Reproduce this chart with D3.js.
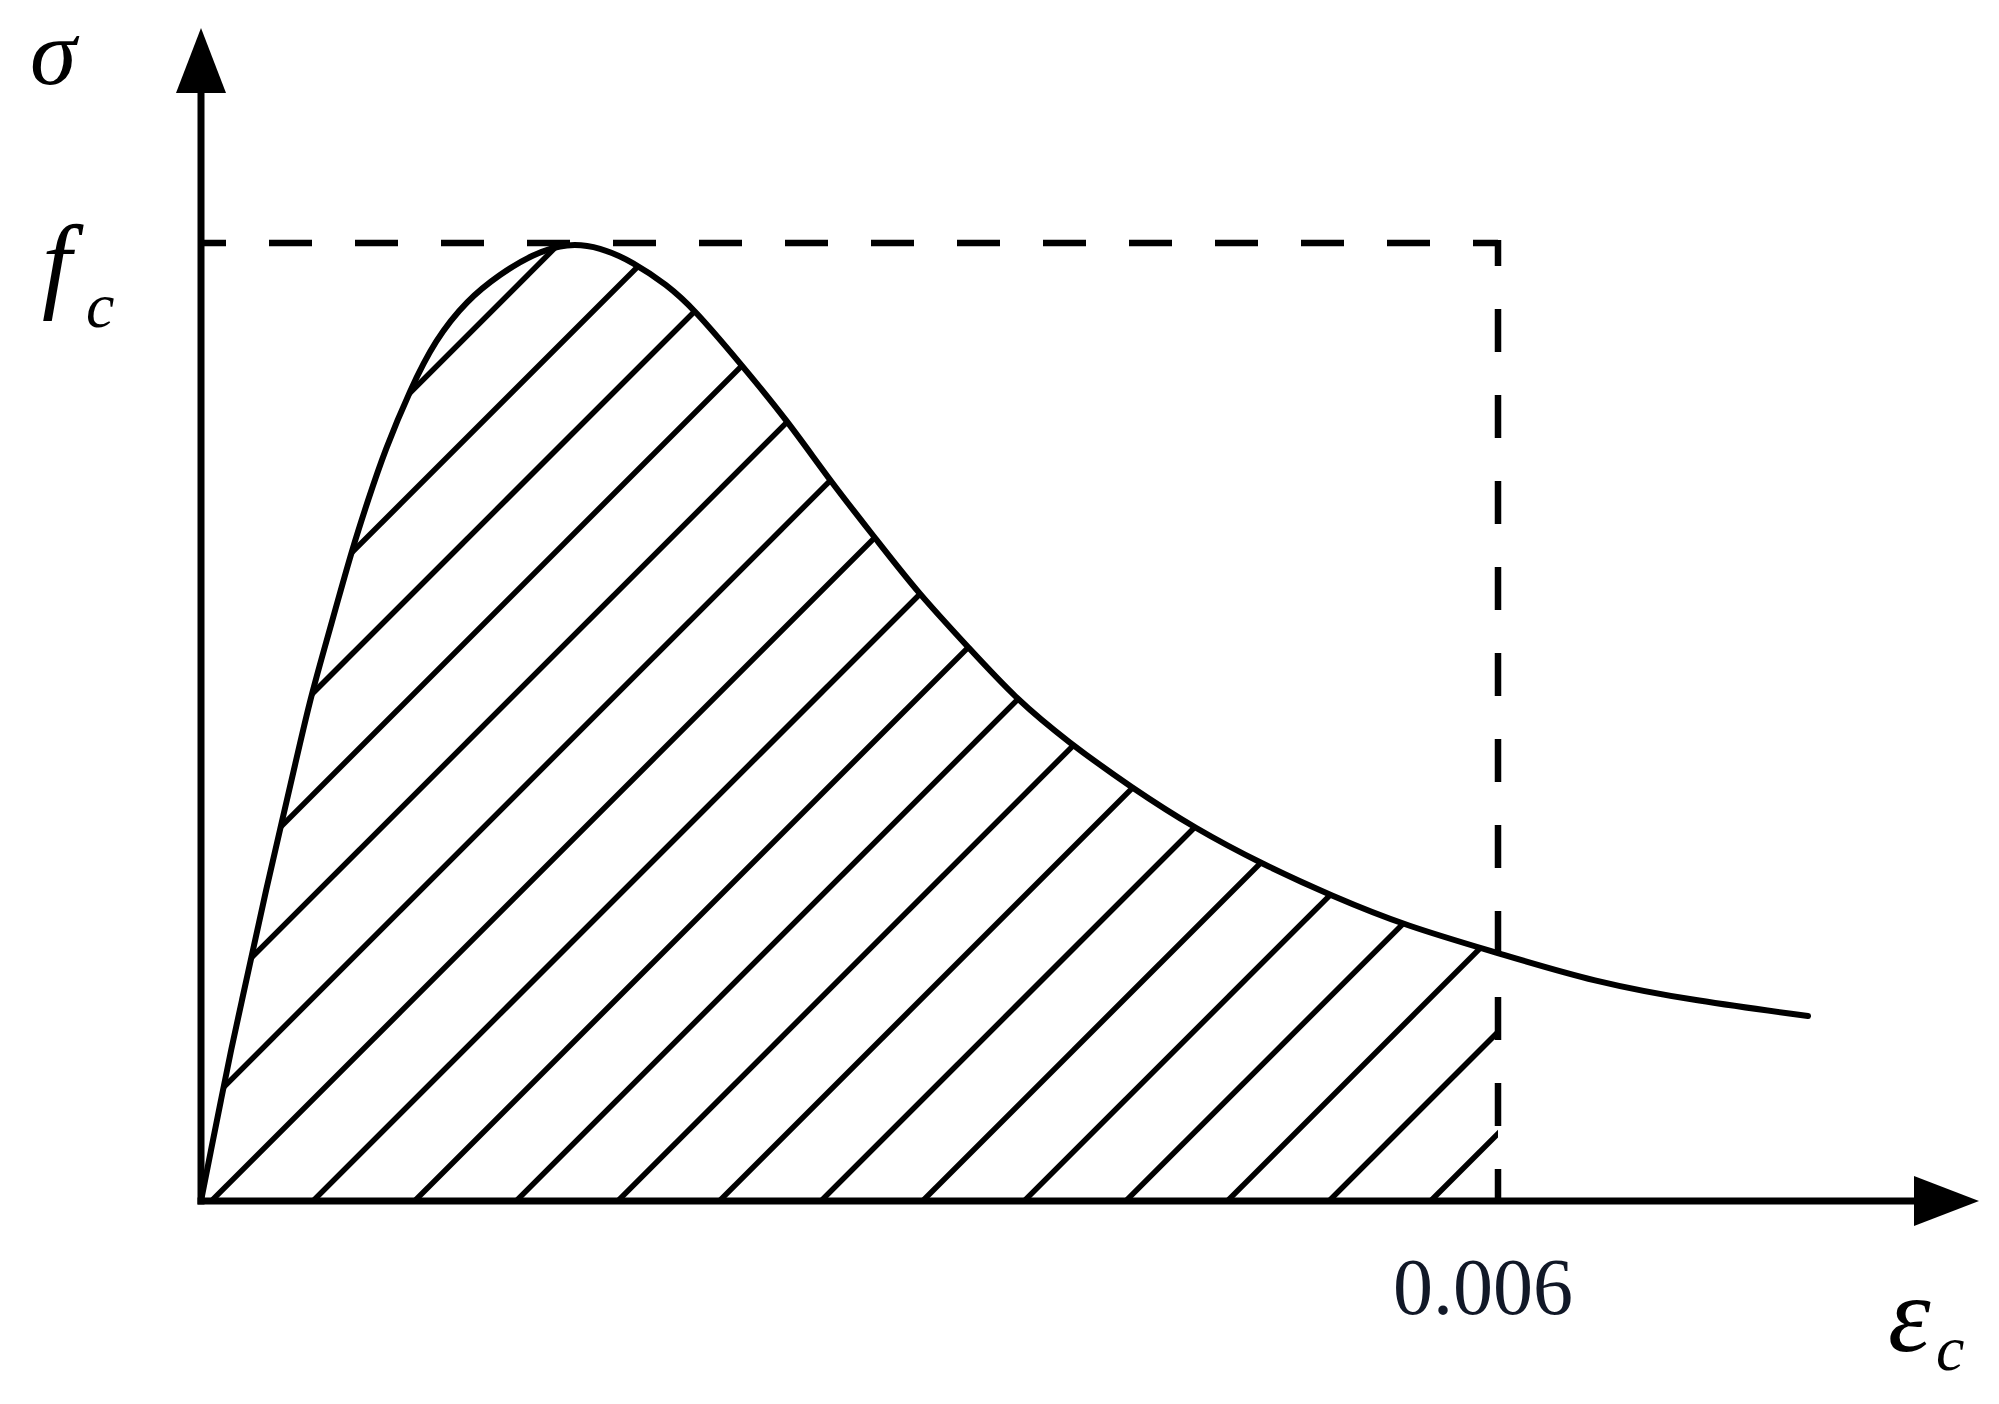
<!DOCTYPE html>
<html>
<head>
<meta charset="utf-8">
<script src="https://cdn.jsdelivr.net/npm/d3@7"></script>
<style>
  html, body { margin: 0; padding: 0; background: #fff; }
  svg { display: block; }
  text { font-family: "Liberation Serif", "Times New Roman", serif; }
</style>
</head>
<body>
<script>
// ---- data (strain, normalised stress sigma / f_c) ----
const strain = [0, 0.0000463, 0.0000925, 0.0001388, 0.0001897, 0.0002406, 0.0003007, 0.0003655,
  0.0004349, 0.0005042, 0.0005690, 0.0006338, 0.0006985, 0.0007726, 0.0008512, 0.0009669,
  0.0010825, 0.0012305, 0.0013832, 0.0015359, 0.0016932,
  0.0018458, 0.0019985, 0.0021558, 0.0022760, 0.0024935, 0.0027109, 0.0029144, 0.0031226,
  0.0033169, 0.0035528, 0.0037703, 0.0040108, 0.0043069, 0.0046030, 0.0049083, 0.0052321,
  0.0055745, 0.0060000, 0.0064441, 0.0069160, 0.0074341];
const stress = [0, 0.0532, 0.1054, 0.1576, 0.2098, 0.2620, 0.3246, 0.3873,
  0.4551, 0.5230, 0.5752, 0.6273, 0.6795, 0.7317, 0.7839, 0.8466,
  0.8987, 0.9405, 0.9676, 0.9885, 1.0,
  0.9958, 0.9802, 0.9562, 0.9322, 0.8747, 0.8152, 0.7505, 0.6910,
  0.6347, 0.5772, 0.5240, 0.4791, 0.4311, 0.3883, 0.3518, 0.3184,
  0.2871, 0.2589, 0.2286, 0.2088, 0.1931];
const limitStrain = [0.006];        // vertical reference line
const limitLabels = ["0.006"];
const peakStress = [1];             // f_c level
const axisLabels = { y: "σ", x: "ε" };

const W = 1999, H = 1404;
const svg = d3.select("body").append("svg").attr("width", W).attr("height", H);

const x = d3.scaleLinear().domain([0, 0.006]).range([201, 1498]);
const y = d3.scaleLinear().domain([0, 1]).range([1201, 243]);

const pts = strain.map((e, i) => [e, stress[i]]);
const curve = d3.curveBasis;

// ---- clip paths for hatch ----
const defs = svg.append("defs");
defs.append("clipPath").attr("id", "clipRect")
  .append("rect")
  .attr("x", x(0)).attr("y", 0)
  .attr("width", x(limitStrain[0]) - x(0)).attr("height", y(0));
defs.append("clipPath").attr("id", "clipArea")
  .append("path")
  .attr("d", d3.area().x(d => x(d[0])).y0(y(0)).y1(d => y(d[1])).curve(curve)(pts));

const hatchOuter = svg.append("g").attr("clip-path", "url(#clipRect)");
const hatch = hatchOuter.append("g").attr("clip-path", "url(#clipArea)");
const spacing = 101.6, base = 313;
const hatchIdx = d3.range(-10, 12);
hatch.selectAll("line").data(hatchIdx).join("line")
  .attr("x1", k => base + k * spacing)
  .attr("y1", y(0))
  .attr("x2", k => base + k * spacing + 1300)
  .attr("y2", y(0) - 1300)
  .attr("stroke", "#000").attr("stroke-width", 5.5);

// ---- dashed reference lines ----
svg.append("line")
  .attr("x1", x(0)).attr("y1", y(peakStress[0]))
  .attr("x2", x(limitStrain[0])).attr("y2", y(peakStress[0]))
  .attr("stroke", "#000").attr("stroke-width", 6.5)
  .attr("stroke-dasharray", "43 43").attr("stroke-dashoffset", 18);
svg.append("line")
  .attr("x1", x(limitStrain[0])).attr("y1", y(peakStress[0]) - 3)
  .attr("x2", x(limitStrain[0])).attr("y2", y(0))
  .attr("stroke", "#000").attr("stroke-width", 6.5)
  .attr("stroke-dasharray", "43 43").attr("stroke-dashoffset", 17);

// ---- curve ----
svg.append("path")
  .attr("d", d3.line().x(d => x(d[0])).y(d => y(d[1])).curve(curve)(pts))
  .attr("fill", "none").attr("stroke", "#000").attr("stroke-width", 6)
  .attr("stroke-linejoin", "round").attr("stroke-linecap", "round");

// ---- axes with arrows ----
const ox = x(0), oy = y(0);
const xEnd = 1979, yEnd = 28, aLen = 65, aHalf = 25;
svg.append("line").attr("x1", ox - 3.5).attr("y1", oy).attr("x2", xEnd - aLen + 2).attr("y2", oy)
  .attr("stroke", "#000").attr("stroke-width", 7);
svg.append("line").attr("x1", ox).attr("y1", oy + 3.5).attr("x2", ox).attr("y2", yEnd + aLen - 2)
  .attr("stroke", "#000").attr("stroke-width", 7);
svg.append("path")
  .attr("d", `M${xEnd},${oy} L${xEnd - aLen},${oy - aHalf} L${xEnd - aLen},${oy + aHalf} Z`)
  .attr("fill", "#000");
svg.append("path")
  .attr("d", `M${ox},${yEnd} L${ox - aHalf},${yEnd + aLen} L${ox + aHalf},${yEnd + aLen} Z`)
  .attr("fill", "#000");

// ---- labels ----
svg.append("text").attr("x", 30).attr("y", 84)
  .attr("font-size", 94).attr("font-style", "italic").text(axisLabels.y);

const fc = svg.append("text").attr("x", 42).attr("y", 298)
  .attr("font-size", 106).attr("font-style", "italic");
fc.append("tspan").text("f");
fc.append("tspan").attr("x", 86).attr("y", 327).attr("font-size", 64).text("c");

const ec = svg.append("text").attr("x", 1888).attr("y", 1351)
  .attr("font-size", 108).attr("font-style", "italic");
ec.append("tspan").text(axisLabels.x);
ec.append("tspan").attr("x", 1936).attr("y", 1370).attr("font-size", 64).text("c");

svg.selectAll("text.tick").data(limitStrain).join("text")
  .attr("class", "tick")
  .attr("x", d => x(d) - 15).attr("y", 1314)
  .attr("text-anchor", "middle").attr("font-size", 80).attr("fill", "#111827")
  .text((d, i) => limitLabels[i]);
</script>
</body>
</html>
